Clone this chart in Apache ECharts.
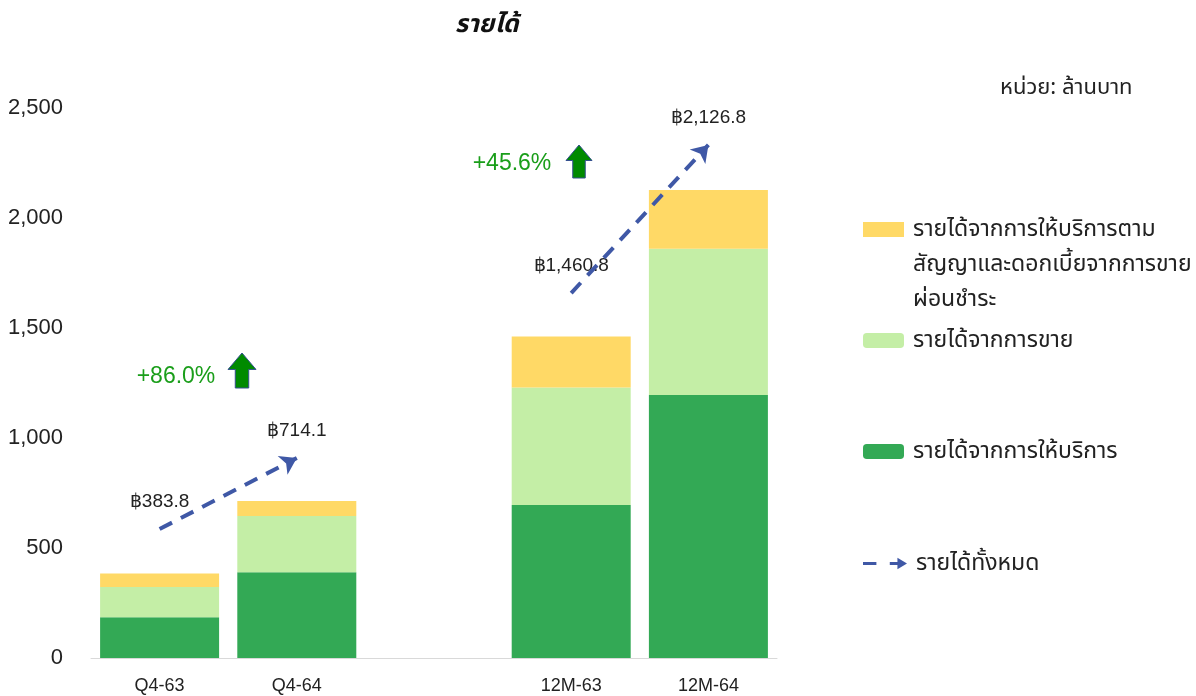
<!DOCTYPE html>
<html>
<head>
<meta charset="utf-8">
<script src="https://cdn.jsdelivr.net/npm/echarts@6/dist/echarts.min.js"></script>
<style>
  html, body { margin: 0; padding: 0; background: #fff; }
  #chart { width: 1196px; height: 696px; }
</style>
</head>
<body>
<div id="chart"></div>
<script>
// periods, with an empty slot between the quarter and full-year groups
const categories = ['Q4-63', 'Q4-64', '', '12M-63', '12M-64'];

// ล้านบาท
const serviceRevenue = [185, 390, '-', 695, 1195];   // รายได้จากการให้บริการ
const salesRevenue = [138, 255, '-', 535, 665];      // รายได้จากการขาย
const contractRevenue = [61, 69, '-', 231, 267];     // บริการตามสัญญา + ดอกเบี้ยผ่อนชำระ
const totals = ['฿383.8', '฿714.1', '', '฿1,460.8', '฿2,126.8'];
// where the dashed trend arrows start / end
const trendLevels = [586, 909, '-', 1659, 2332];
const trendPairs = [[0, 1], [3, 4]];

const yTicks = [0, 500, 1000, 1500, 2000, 2500];

const NAME_SERVICE = 'รายได้จากการให้บริการ';
const NAME_SALES = 'รายได้จากการขาย';
const NAME_CONTRACT = 'รายได้จากการให้บริการตามสัญญาและดอกเบี้ยจากการขายผ่อนชำระ';
const NAME_TOTAL = 'รายได้ทั้งหมด';

const FONT = "'Noto Sans', 'Noto Sans Thai', sans-serif";
const LATIN = "'Liberation Sans', Arial, sans-serif";
const BLUE = '#3f58a6';

const chart = echarts.init(document.getElementById('chart'));

const bar = (name, data, color) => ({
    name,
    type: 'bar',
    stack: 'rev',
    data,
    barWidth: 119,
    itemStyle: { color },
    emphasis: { disabled: true }
});

const upArrow = (x, y, w, h) => ({
    type: 'polygon',
    x, y,
    shape: {
        points: [[w / 2, 0], [w, h * 0.47], [w * 0.74, h * 0.47], [w * 0.74, h],
                 [w * 0.26, h], [w * 0.26, h * 0.47], [0, h * 0.47]]
    },
    style: { fill: '#008a00', stroke: '#34508f', lineWidth: 1 }
});

const legendText = { fontFamily: FONT, fontSize: 23, color: '#222', padding: [0, 0, 0, 4] };

chart.setOption({
    animation: false,
    title: [
        {
            text: 'รายได้', left: 450, top: 7,
            textStyle: { fontFamily: FONT, fontSize: 25, fontWeight: 'bold', fontStyle: 'italic', color: '#111' }
        },
        {
            text: 'หน่วย: ล้านบาท', left: 995, top: 72,
            textStyle: { fontFamily: FONT, fontSize: 22, fontWeight: 'normal', color: '#222' }
        }
    ],
    grid: { left: 91, right: 419, top: 108, bottom: 38, containLabel: false },
    xAxis: {
        type: 'category',
        data: categories,
        axisTick: { show: false },
        axisLine: { lineStyle: { color: '#d9d9d9', width: 1 } },
        axisLabel: {
            interval: 0, margin: 19,
            fontFamily: LATIN,
            fontSize: 18, color: '#222'
        }
    },
    yAxis: {
        type: 'value',
        min: yTicks[0],
        max: yTicks[yTicks.length - 1],
        interval: 500,
        splitLine: { show: false },
        axisLine: { show: false },
        axisTick: { show: false },
        axisLabel: {
            margin: 28,
            fontFamily: LATIN,
            fontSize: 22, color: '#222',
            formatter: v => v.toLocaleString('en-US')
        }
    },
    legend: [
        {
            // tall icon whose visible block sits at the top, so it lines up with the first text line
            data: [{ name: NAME_CONTRACT, icon: 'path://M0,0H41V15H0Z M0,85L0.01,85L0,85.01Z' }],
            left: 863, top: 212, padding: 0,
            itemWidth: 41, itemHeight: 85, selectedMode: false,
            formatter: () => 'รายได้จากการให้บริการตาม\nสัญญาและดอกเบี้ยจากการขาย\nผ่อนชำระ',
            textStyle: Object.assign({}, legendText, { lineHeight: 35 })
        },
        {
            data: [NAME_SALES], left: 863, top: 329, padding: 0,
            itemWidth: 41, itemHeight: 15, selectedMode: false, textStyle: legendText
        },
        {
            data: [NAME_SERVICE], left: 863, top: 440, padding: 0,
            itemWidth: 41, itemHeight: 15, selectedMode: false, textStyle: legendText
        },
        {
            data: [{
                name: NAME_TOTAL,
                icon: 'path://M0,5.5H14V8.5H0Z M28,5.5H38V8.5H28Z M36,1L46,7L36,13Z',
                itemStyle: { color: BLUE, opacity: 1 }
            }],
            left: 863, top: 552, padding: 0,
            itemWidth: 44, itemHeight: 14, selectedMode: false, textStyle: legendText
        }
    ],
    series: [
        bar(NAME_SERVICE, serviceRevenue, '#33a955'),
        bar(NAME_SALES, salesRevenue, '#c4eea6'),
        bar(NAME_CONTRACT, contractRevenue, '#ffd966'),
        {
            name: NAME_TOTAL,
            type: 'line',
            data: trendLevels,
            itemStyle: { color: BLUE },
            lineStyle: { width: 0 },
            symbol: 'circle',
            symbolSize: 0,
            showSymbol: true,
            connectNulls: false,
            emphasis: { disabled: true },
            label: {
                show: true, position: 'top', distance: 18,
                fontFamily: LATIN,
                fontSize: 19, color: '#222',
                formatter: p => totals[p.dataIndex]
            },
            markLine: {
                silent: true,
                symbol: ['none', 'arrow'],
                symbolSize: 16,
                label: { show: false },
                lineStyle: { color: BLUE, width: 4, type: [14, 10], opacity: 1 },
                itemStyle: { color: BLUE, opacity: 1 },
                emphasis: { disabled: true },
                data: trendPairs.map(([a, b]) => [
                    { coord: [a, trendLevels[a]] },
                    { coord: [b, trendLevels[b]] }
                ])
            }
        }
    ],
    graphic: [
        {
            type: 'text', x: 176, y: 377,
            style: { text: '+86.0%', fill: '#1a9e1a', fontFamily: LATIN, fontSize: 23, align: 'center', verticalAlign: 'middle' }
        },
        upArrow(228, 353, 28, 35),
        {
            type: 'text', x: 512, y: 164,
            style: { text: '+45.6%', fill: '#1a9e1a', fontFamily: LATIN, fontSize: 23, align: 'center', verticalAlign: 'middle' }
        },
        upArrow(566, 145, 26, 33)
    ]
});
</script>
</body>
</html>
